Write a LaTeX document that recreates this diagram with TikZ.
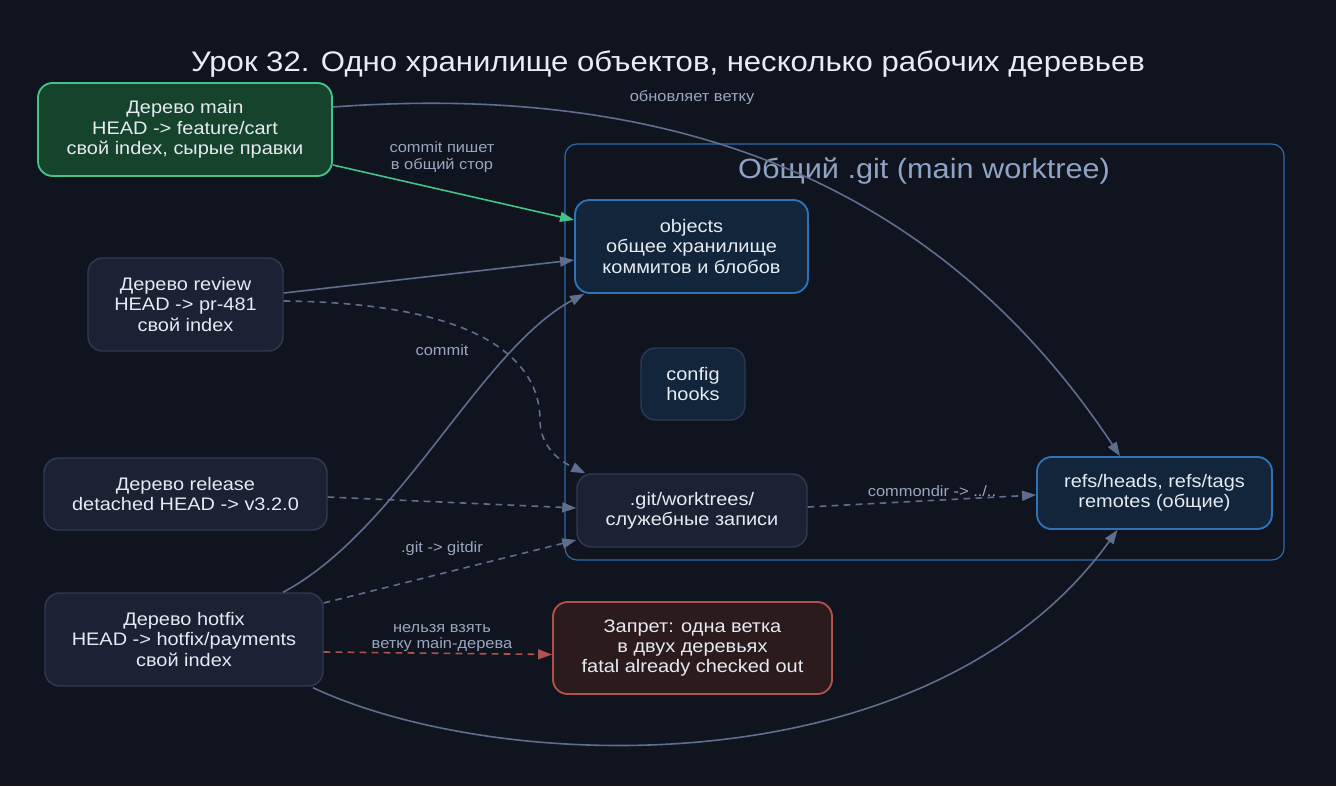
\documentclass[tikz,border=0pt]{standalone}
\usepackage{fontspec}
\setmainfont{Liberation Sans}[FakeStretch=1.1]
\usetikzlibrary{arrows.meta,calc}
\definecolor{bg}{HTML}{10141F}
\definecolor{nfill}{HTML}{1C2133}
\definecolor{nborder}{HTML}{2E3A52}
\definecolor{gfill}{HTML}{15432B}
\definecolor{gborder}{HTML}{45C285}
\definecolor{bfill}{HTML}{13253A}
\definecolor{bborder}{HTML}{2F72B6}
\definecolor{cborder}{HTML}{2A3A55}
\definecolor{rfill}{HTML}{2C1B1C}
\definecolor{rborder}{HTML}{B0504F}
\definecolor{clus}{HTML}{2C6BAD}
\definecolor{cluslabel}{HTML}{8FA3C4}
\definecolor{edgec}{HTML}{5F6E8E}
\definecolor{elabel}{HTML}{9AA7BF}
\definecolor{ntext}{HTML}{E6EAF2}
\definecolor{ttext}{HTML}{E8ECF4}
\tikzset{
  box/.style={rectangle, rounded corners=11pt, draw=nborder, fill=nfill, line width=1.1pt,
    text=ntext, align=center, inner sep=0pt, font=\fontsize{13.6pt}{15.2pt}\selectfont},
  greenbox/.style={box, draw=gborder, fill=gfill, line width=1.4pt},
  bluebox/.style={box, draw=bborder, fill=bfill, line width=1.4pt},
  cfgbox/.style={box, draw=cborder, fill=bfill},
  redbox/.style={box, draw=rborder, fill=rfill, line width=1.4pt},
  elab/.style={text=elabel, align=center, inner sep=0pt, font=\fontsize{11.2pt}{12.5pt}\selectfont},
  conn/.style={draw=edgec, line width=1.2pt, -{Triangle[length=10.5pt,width=7.5pt]}},
  dconn/.style={conn, dash pattern=on 5pt off 4pt},
}
\begin{document}
\begin{tikzpicture}[x=0.75pt,y=-0.75pt]
\fill[bg] (0,0) rectangle (1336,786);
\useasboundingbox (0,0) rectangle (1336,786);

\node[text=ttext, font=\fontsize{21.2pt}{24pt}\selectfont] (title) at (668,64) {Урок 32. Одно хранилище объектов, несколько рабочих деревьев};

% cluster
\draw[clus, line width=0.9pt, rounded corners=9pt] (565,144) rectangle (1284,560);
\node[text=cluslabel, font=\fontsize{20.9pt}{24pt}\selectfont] (cluslab) at (924,171) {Общий .git (main worktree)};

% nodes
\node[greenbox, minimum width=294*0.75pt, minimum height=93*0.75pt] (main) at (185,129.5) {Дерево main\\HEAD -> feature/cart\\свой index, сырые правки};
\node[box, minimum width=195*0.75pt, minimum height=93*0.75pt] (review) at (185.5,304.5) {Дерево review\\HEAD -> pr-481\\свой index};
\node[box, minimum width=283*0.75pt, minimum height=72*0.75pt] (release) at (185.5,494) {Дерево release\\detached HEAD -> v3.2.0};
\node[box, minimum width=278*0.75pt, minimum height=93*0.75pt] (hotfix) at (184,639.5) {Дерево hotfix\\HEAD -> hotfix/payments\\свой index};

\node[bluebox, minimum width=233*0.75pt, minimum height=93*0.75pt] (objects) at (691.5,246.5) {objects\\общее хранилище\\коммитов и блобов};
\node[cfgbox, minimum width=104*0.75pt, minimum height=72*0.75pt] (config) at (693,384) {config\\hooks};
\node[box, minimum width=230*0.75pt, minimum height=73*0.75pt] (worktrees) at (692,510.5) {.git/worktrees/\\служебные записи};
\node[bluebox, minimum width=235*0.75pt, minimum height=72*0.75pt] (refs) at (1154.5,493) {refs/heads, refs/tags\\remotes (общие)};
\node[redbox, minimum width=279*0.75pt, minimum height=92*0.75pt] (forbid) at (692.5,648) {Запрет: одна ветка\\в двух деревьях\\fatal already checked out};

% connectors
\draw[conn] ($(main.east)+(0,-22.5)$) .. controls (700,80) and (950,200) .. ($(refs.north)+(-34.5,0)$);
\node[elab] (l1) at (692,98) {обновляет ветку};

\draw[conn, draw=gborder] ($(main.east)+(0,35.5)$) -- ($(objects.west)+(0,-26.5)$);
\node[elab] (l2) at (442,157) {commit пишет\\в общий стор};

\draw[conn] ($(review.east)+(0,-11.5)$) -- ($(objects.west)+(0,13.5)$);

\draw[dconn] ($(review.east)+(0,-3.5)$) .. controls (480,303) and (540,360) .. (540,420) .. controls (540,448) and (562,462) .. ($(worktrees.north west)+(9,0)$);
\node[elab] (l3) at (442,350) {commit};

\draw[conn] ($(hotfix.north)+(99,0)$) .. controls (400,530) and (480,350) .. ($(objects.south west)+(10,0)$);

\draw[dconn] ($(release.east)+(0,3)$) -- ($(worktrees.west)+(0,-2.5)$);

\draw[dconn] ($(hotfix.east)+(0,-36.5)$) -- ($(worktrees.west)+(0,29.5)$);
\node[elab] (l4) at (442,549) {.git -> gitdir};

\draw[dconn, draw=rborder] ($(hotfix.east)+(0,12.5)$) -- ($(forbid.west)+(0,6.5)$);
\node[elab] (l5) at (442,638) {нельзя взять\\ветку main-дерева};

\draw[conn] ($(hotfix.south)+(129,1)$) .. controls (500,775) and (930,790) .. ($(refs.south)+(-37,0)$);

\draw[dconn] ($(worktrees.east)+(0,-3.5)$) -- ($(refs.west)+(0,2)$);
\node[elab] (l6) at (932,491) {commondir -> ../..};
\end{tikzpicture}
\end{document}
